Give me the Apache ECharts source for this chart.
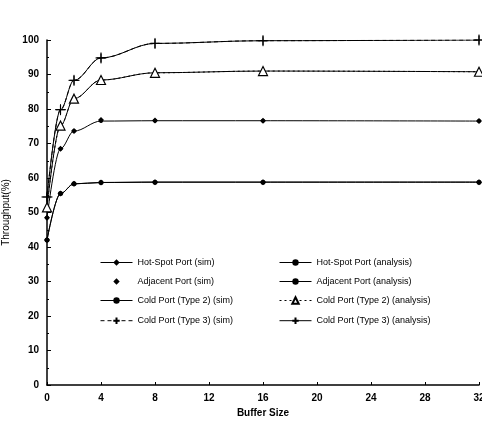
<!DOCTYPE html>
<html>
<head>
<meta charset="utf-8">
<script src="https://cdn.jsdelivr.net/npm/echarts@6/dist/echarts.min.js"></script>
<style>
  html, body { margin: 0; padding: 0; background: #fff; }
  #chart { width: 482px; height: 425px; }
</style>
</head>
<body>
<div id="chart"></div>
<script>
// buffer sizes sampled
var bufferSizes = [0, 1, 2, 4, 8, 16, 32];

// throughput (%) per port
var hotSpotSim = [42, 55.5, 58.3, 58.7, 58.8, 58.8, 58.8];
var hotSpotAna = [42, 55.5, 58.3, 58.7, 58.8, 58.8, 58.8];
var adjacentSim = [48.5, 68.5, 73.6, 76.8, 76.7, 76.6, 76.5];
var adjacentAna = [48.5, 68.5, 73.6, 76.5, 76.6, 76.6, 76.5];
var cold2Sim = [51.5, 75.2, 83.0, 88.4, 90.5, 91.0, 90.8];
var cold2Ana = [51.5, 75.2, 83.0, 88.4, 90.5, 91.0, 90.8];
var cold3Sim = [54.5, 79.8, 88.3, 94.8, 99.0, 99.8, 100];
var cold3Ana = [54.5, 79.8, 88.3, 94.8, 99.0, 99.8, 100];

var seriesNames = [
    'Hot-Spot Port (sim)', 'Adjacent Port (sim)', 'Cold Port (Type 2) (sim)', 'Cold Port (Type 3) (sim)',
    'Hot-Spot Port (analysis)', 'Adjacent Port (analysis)', 'Cold Port (Type 2) (analysis)', 'Cold Port (Type 3) (analysis)'
];

function pairs( ys ) {
    var out = [];
    for ( var i = 0; i < bufferSizes.length; i++ ) {
        out.push( [bufferSizes[i], ys[i]] );
    }
    return out;
}

var plus = 'path://M0,5L10,5M5,0L5,10';
var black = '#000';
var font = 'Liberation Sans';

function lineSeries( name, ys, opt ) {
    return {
        name: name,
        type: 'line',
        data: pairs( ys ),
        smooth: 0.35,
        smoothMonotone: 'x',
        symbol: opt.symbol || 'circle',
        symbolSize: opt.size || 5,
        lineStyle: { color: black, width: 1, type: opt.dash || 'solid', opacity: opt.noLine ? 0 : 1 },
        itemStyle: {
            color: opt.fill || black,
            borderColor: black,
            borderWidth: opt.border || 0
        },
        emphasis: { disabled: true },
        z: opt.z || 2
    };
}

function legendBlock( names, left ) {
    return {
        data: names,
        orient: 'vertical',
        left: left,
        top: 253,
        itemGap: 10,
        itemWidth: 32,
        itemHeight: 8,
        lineStyle: { width: 1 },
        textStyle: { fontFamily: font, fontSize: 9, color: black }
    };
}

var chart = echarts.init( document.getElementById( 'chart' ) );
var option = {
    animation: false,
    backgroundColor: '#fff',
    grid: { left: 47, right: 3, top: 40, bottom: 40, outerBoundsMode: 'none' },
    legend: [
        legendBlock( seriesNames.slice( 0, 4 ), 95 ),
        legendBlock( seriesNames.slice( 4 ), 274 )
    ],
    xAxis: {
        type: 'value',
        min: 0,
        max: 32,
        interval: 4,
        name: 'Buffer Size',
        nameLocation: 'middle',
        nameGap: 22,
        nameTextStyle: { fontFamily: font, fontSize: 10, fontWeight: 'bold', color: black },
        axisLine: { lineStyle: { color: black, width: 1.5 } },
        axisTick: { inside: true, length: 3, lineStyle: { color: black } },
        axisLabel: { fontFamily: font, fontSize: 10, fontWeight: 'bold', color: black, margin: 8 },
        splitLine: { show: false }
    },
    yAxis: {
        type: 'value',
        min: 0,
        max: 100,
        interval: 10,
        name: 'Throughput(%)',
        nameLocation: 'middle',
        nameGap: 29,
        nameTextStyle: { fontFamily: font, fontSize: 10, color: black },
        axisLine: { show: true, lineStyle: { color: black, width: 1.5 } },
        axisTick: { show: true, inside: true, length: 4, lineStyle: { color: black } },
        minorTick: { show: true, splitNumber: 2, length: 2, lineStyle: { color: black } },
        axisLabel: { fontFamily: font, fontSize: 10, fontWeight: 'bold', color: black, margin: 8 },
        splitLine: { show: false }
    },
    series: [
        lineSeries( seriesNames[0], hotSpotSim, { symbol: 'diamond', size: 6 } ),
        lineSeries( seriesNames[1], adjacentSim, { symbol: 'diamond', size: 6, noLine: true } ),
        lineSeries( seriesNames[2], cold2Sim, { symbol: 'circle', size: 4 } ),
        lineSeries( seriesNames[3], cold3Sim, { symbol: plus, size: 9, dash: [4, 3], fill: 'none', border: 1.2, z: 4 } ),
        lineSeries( seriesNames[4], hotSpotAna, { symbol: 'circle', size: 5 } ),
        lineSeries( seriesNames[5], adjacentAna, { symbol: 'circle', size: 4 } ),
        lineSeries( seriesNames[6], cold2Ana, { symbol: 'triangle', size: 9, dash: [2, 3], fill: '#fff', border: 1.2, z: 4 } ),
        lineSeries( seriesNames[7], cold3Ana, { symbol: plus, size: 11, fill: 'none', border: 1, z: 4 } )
    ]
};
chart.setOption( option );
</script>
</body>
</html>
